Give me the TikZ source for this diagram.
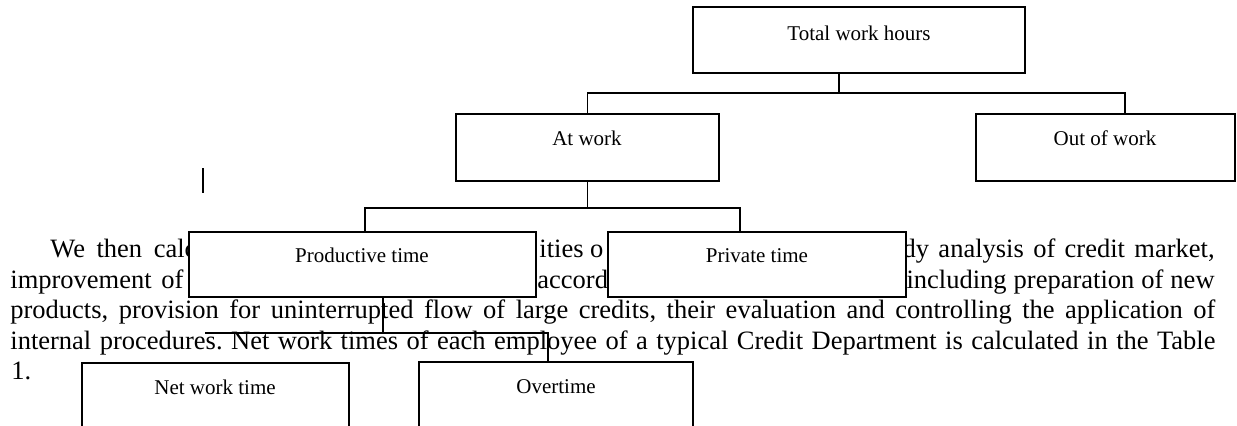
\documentclass[tikz,border=0pt]{standalone}
\usepackage{fontspec}
\setmainfont{Liberation Serif}
\usetikzlibrary{fit,backgrounds}
\frenchspacing
\begin{document}
\begin{tikzpicture}[x=0.5pt,y=-0.5pt,
  box/.style={draw, fill=white, line width=1pt, inner sep=0pt},
  lbl/.style={font=\fontsize{10.5pt}{12pt}\selectfont, inner sep=0pt},
  body/.style={font=\fontsize{13.25pt}{15pt}\selectfont, inner sep=0pt, anchor=base west},
  conn/.style={line width=0.9pt}]
\useasboundingbox (0,0) rectangle (1237,425);
\clip (0,0) rectangle (1237,425);
% boxes
\node[box, fit={(693,7) (1025,73)}] (tot) {};
\node[box, fit={(456,114) (719,181)}] (atw) {};
\node[box, fit={(976,114) (1235,181)}] (out) {};
\node[box, fit={(189,232) (536,297)}] (pro) {};
\node[box, fit={(608,232) (906,297)}] (pri) {};
\node[box, fit={(82,363) (349,450)}] (net) {};
\node[box, fit={(419,362) (693,450)}] (ovt) {};
% labels
\node[lbl] (totL) at (859,33) {Total work hours};
\node[lbl] (atwL) at (587,138) {At work};
\node[lbl] (outL) at (1105,138) {Out of work};
\node[lbl] (proL) at (362,255) {Productive time};
\node[lbl] (priL) at (757,256) {Private time};
\node[lbl] (netL) at (215,387) {Net work time};
\node[lbl] (ovtL) at (556,387) {Overtime};
% body text behind
\begin{pgfonlayer}{background}
\node[body] (t1a) at (50,257) {\makebox[73pt][s]{We then calc}};
\node[body] (t1b) at (539,257) {ities o};
\node[body, anchor=base east] (t1c) at (1215,257) {\makebox[156pt][s]{dy analysis of credit market,}};
\node[body] (t2a) at (10,288) {\makebox[86.5pt][s]{improvement of}};
\node[body] (t2b) at (537,288) {accorda};
\node[body, anchor=base east] (t2c) at (1215,288) {\makebox[154pt][s]{including preparation of new}};
\node[body] (t3) at (10,318) {\makebox[602.5pt][s]{products, provision for uninterrupted flow of large credits, their evaluation and controlling the application of}};
\node[body] (t4) at (10,349) {\makebox[602.5pt][s]{internal procedures. Net work times of each employee of a typical Credit Department is calculated in the Table}};
\node[body] (t5) at (11,379) {1.};
\end{pgfonlayer}
% helper coordinates
\coordinate (s1) at (839,0);
\coordinate (h1) at (0,93);
\coordinate (b1) at (1125,0);
\coordinate (h2) at (0,208);
\coordinate (b2) at (365,0);
\coordinate (b3) at (740,0);
\coordinate (s3) at (383,0);
\coordinate (h3) at (0,333);
\coordinate (e3) at (205,0);
\coordinate (b4) at (548,0);
\coordinate (m1) at (203,168);
\coordinate (m2) at (203,193);
% connectors
\draw[conn] (tot.south -| s1) -- (h1 -| s1);
\draw[conn] (atw.north) -- (atw.north |- h1) -- (h1 -| b1) -- (out.north -| b1);
\draw[conn] (atw.south) -- (atw.south |- h2);
\draw[conn] (pro.north -| b2) |- (h2 -| b3) -- (pri.north -| b3);
\draw[conn] (pro.south -| s3) -- (h3 -| s3);
\draw[conn] (h3 -| e3) -- (h3 -| b4) -- (ovt.north -| b4);
\draw[line width=0.6pt] (m1) -- (m2);
\end{tikzpicture}
\end{document}
